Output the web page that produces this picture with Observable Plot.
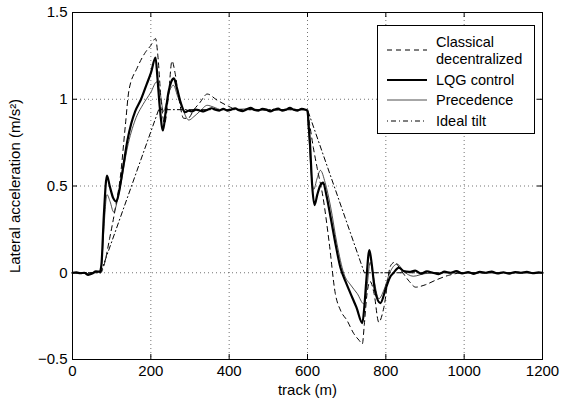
<!DOCTYPE html>
<html>
<head>
<meta charset="utf-8">
<script src="https://cdn.jsdelivr.net/npm/d3@7"></script>
<script src="https://cdn.jsdelivr.net/npm/@observablehq/plot@0.6"></script>
<style>
  html, body { margin: 0; padding: 0; background: #fff; }
  #chart svg { display: block; }
</style>
</head>
<body>
<div id="chart"></div>
<script>
// ---------- data ----------
const xTicks = [0, 200, 400, 600, 800, 1000, 1200];
const yTicks = [-0.5, 0, 0.5, 1, 1.5];

const seriesNames = ["Classical decentralized", "LQG control", "Precedence", "Ideal tilt"];

const classicalX = [0,72,80,95,110,122,135,144,165,186,200,212,218,226,235,245,254,262,272,284,295,310,325,344,369,398,420,450,500,550,598,605,615,625,640,655,671,685,701,718,732,740,745,752,760,770,782,795,812,822,840,860,876,900,930,960,1000,1100,1200];
const classicalY = [0,0,0.04,0.2,0.38,0.55,0.85,1.05,1.18,1.27,1.31,1.35,1.25,1.0,0.86,1.02,1.22,1.15,1.0,0.89,0.89,0.94,0.98,1.03,0.995,0.96,0.94,0.94,0.94,0.94,0.94,0.86,0.72,0.6,0.43,0.18,-0.12,-0.22,-0.275,-0.35,-0.39,-0.41,-0.3,-0.12,-0.05,-0.12,-0.285,-0.2,0.04,0.06,0.01,-0.05,-0.083,-0.07,-0.04,-0.015,0,0,0];

const lqgX = [0,10,20,30,40,50,60,70,74,80,88,95,104,112,120,130,140,150,160,175,190,200,212,217,223,231,238,245,252,259,266,275,288,296,305,315,325,335,345,355,365,375,385,395,405,415,425,435,445,455,465,475,485,495,505,515,525,535,545,555,565,575,585,595,600,603,606,612,618,625,632,640,648,659,672,684,697,710,725,740,745,750,758,764,772,786,800,812,820,833,845,860,875,890,905,920,935,950,965,980,995,1010,1025,1040,1055,1070,1085,1100,1115,1130,1145,1160,1175,1190,1200];
const lqgY = [0,0.002,-0.003,0,-0.012,-0.005,0.008,0.006,0.05,0.33,0.56,0.5,0.43,0.41,0.48,0.62,0.76,0.86,0.93,1.0,1.09,1.15,1.24,1.12,0.95,0.82,0.93,1.04,1.1,1.12,1.07,0.99,0.925,0.935,0.93,0.94,0.935,0.93,0.94,0.948,0.94,0.935,0.945,0.935,0.94,0.948,0.937,0.932,0.942,0.95,0.938,0.935,0.945,0.94,0.93,0.94,0.946,0.935,0.94,0.95,0.94,0.935,0.945,0.94,0.935,0.85,0.76,0.5,0.39,0.45,0.5,0.52,0.45,0.32,0.16,0.03,-0.05,-0.12,-0.2,-0.29,-0.2,-0.05,0.13,0.05,-0.1,-0.175,-0.09,-0.02,0,0.03,0.01,0.005,0.012,-0.005,0.008,0,-0.008,0.006,0,0.01,-0.004,0.004,-0.006,0.005,0,0.007,-0.004,0.003,-0.005,0.004,0,0.005,-0.003,0.002,0];

const precX = [0,40,60,70,74,80,88,96,105,115,125,140,160,180,200,215,225,232,240,248,258,268,280,297,310,325,344,360,380,400,450,500,550,598,603,610,616,624,633,645,659,675,693,710,727,744,752,760,768,782,795,810,829,845,870,900,950,1000,1100,1200];
const precY = [0,-0.005,0.005,0.005,0.04,0.25,0.45,0.41,0.35,0.42,0.53,0.72,0.88,0.97,1.04,1.1,1.02,0.93,0.98,1.05,1.08,1.02,0.95,0.88,0.9,0.93,0.965,0.955,0.94,0.94,0.945,0.935,0.94,0.94,0.8,0.56,0.48,0.54,0.59,0.52,0.38,0.17,-0.006,-0.07,-0.12,-0.18,-0.08,0.06,-0.02,-0.15,-0.1,0,0.05,0.01,-0.02,-0.005,0,0,0,0];

const idealX = [0,72,220,600,745,1200];
const idealY = [0,0,0.94,0.94,0,0];

// ---------- build tables ----------
const toRows = (xs, ys) => xs.map((x, i) => ({x, y: ys[i]}));
const classical = toRows(classicalX, classicalY);
const lqg = toRows(lqgX, lqgY);
const prec = toRows(precX, precY);
const ideal = toRows(idealX, idealY);

const W = 572, H = 401;
const mL = 72, mR = 30, mT = 12, mB = 42;
const innerW = W - mL - mR, innerH = H - mT - mB;
const tickLen = 5;
const FONT = "'Liberation Sans', Arial, Helvetica, sans-serif";
const fmt = d => d < 0 ? "\u2212" + Math.abs(d) : String(d);

const gridStyle = {stroke: "#000", strokeOpacity: 0.55, strokeWidth: 1, strokeDasharray: "1,3"};

const chart = Plot.plot({
  width: W, height: H,
  marginLeft: mL, marginRight: mR, marginTop: mT, marginBottom: mB,
  style: {fontFamily: FONT, fontSize: "15px", color: "#000", background: "#fff"},
  x: {domain: [0, 1200], ticks: xTicks, tickFormat: fmt},
  y: {domain: [-0.5, 1.5], ticks: yTicks, tickFormat: fmt},
  marks: [
    Plot.ruleX(xTicks.filter(d => d > 0 && d < 1200), {x: d => d, ...gridStyle}),
    Plot.ruleY(yTicks.filter(d => d > -0.5 && d < 1.5), {y: d => d, ...gridStyle}),
    Plot.line(ideal, {x: "x", y: "y", stroke: "#000", strokeWidth: 1, strokeDasharray: "1,3,5,3"}),
    Plot.line(classical, {x: "x", y: "y", stroke: "#000", strokeWidth: 1, strokeDasharray: "5,4", curve: "monotone-x"}),
    Plot.line(prec, {x: "x", y: "y", stroke: "#222", strokeWidth: 0.8, curve: "monotone-x"}),
    Plot.line(lqg, {x: "x", y: "y", stroke: "#000", strokeWidth: 2.2, curve: "monotone-x"}),
    // inward ticks on all four sides
    Plot.ruleX(xTicks, {x: d => d, insetTop: innerH - tickLen, stroke: "#000"}),
    Plot.ruleX(xTicks, {x: d => d, insetBottom: innerH - tickLen, stroke: "#000"}),
    Plot.ruleY(yTicks, {y: d => d, insetRight: innerW - tickLen, stroke: "#000"}),
    Plot.ruleY(yTicks, {y: d => d, insetLeft: innerW - tickLen, stroke: "#000"}),
    Plot.frame({stroke: "#000", strokeWidth: 1}),
    Plot.axisX({ticks: xTicks, tickSize: 0, tickPadding: 6, tickFormat: fmt, label: null, fontSize: 15}),
    Plot.axisY({ticks: yTicks, tickSize: 0, tickPadding: 5, tickFormat: fmt, label: null, fontSize: 15}),
    Plot.text(["track (m)"], {frameAnchor: "bottom", lineAnchor: "middle", textAnchor: "middle", dy: 31, fontSize: 15, fill: "#000"}),
    Plot.text(["Lateral acceleration (m/s\u00B2)"], {frameAnchor: "left", textAnchor: "middle", lineAnchor: "middle", rotate: -90, dx: -57, fontSize: 15, fill: "#000"})
  ]
});

// ---------- legend (inside plot, top right) ----------
const svg = d3.select(chart);
const lg = svg.append("g").attr("font-family", FONT).attr("font-size", 14.5).attr("fill", "#000").attr("text-anchor", "start");
lg.append("rect").attr("x", 377.5).attr("y", 25.5).attr("width", 157).attr("height", 108)
  .attr("fill", "#fff").attr("stroke", "#000").attr("stroke-width", 1);
const items = [
  {lines: ["Classical", "decentralized"], y: 50, dash: "5,4", w: 1, c: "#000"},
  {lines: ["LQG control"], y: 80, dash: null, w: 2.2, c: "#000"},
  {lines: ["Precedence"], y: 100, dash: null, w: 0.8, c: "#222"},
  {lines: ["Ideal tilt"], y: 121, dash: "1,3,5,3", w: 1, c: "#000"}
];
items.forEach(it => {
  const l = lg.append("line").attr("x1", 387).attr("x2", 427).attr("y1", it.y).attr("y2", it.y)
    .attr("stroke", it.c).attr("stroke-width", it.w);
  if (it.dash) l.attr("stroke-dasharray", it.dash);
  const n = it.lines.length;
  it.lines.forEach((t, i) => {
    lg.append("text").attr("x", 436).attr("y", it.y + (i - (n - 1) / 2) * 17)
      .attr("dy", "0.35em").attr("text-anchor", "start").text(t);
  });
});

document.getElementById("chart").appendChild(chart);
</script>
</body>
</html>
